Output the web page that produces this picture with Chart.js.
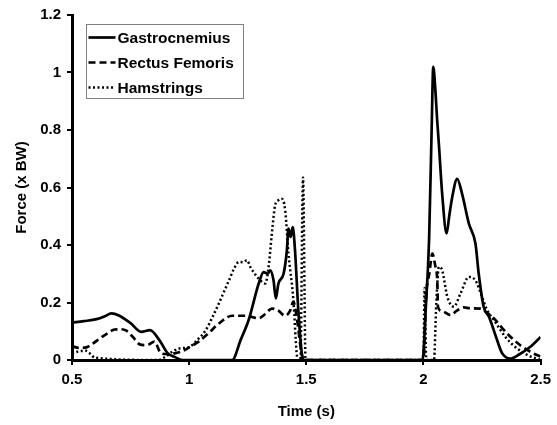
<!DOCTYPE html>
<html lang="en">
<head>
<meta charset="UTF-8">
<title>Muscle forces</title>
<script src="https://cdn.jsdelivr.net/npm/chart.js@4.4.1/dist/chart.umd.min.js"></script>
<style>
  html, body { margin: 0; padding: 0; background: #fff; }
  #wrap { width: 557px; height: 425px; }
</style>
</head>
<body>
<div id="wrap"><canvas id="myChart" width="557" height="425"></canvas></div>
<script>
// time (s) and force (x BW)
const gastroT = [0.5, 0.55, 0.605, 0.64, 0.668, 0.7, 0.75, 0.795, 0.833, 0.873, 0.907, 0.94, 0.97,
  1.184, 1.22, 1.254, 1.297, 1.318, 1.335, 1.346, 1.36, 1.37, 1.381, 1.403, 1.417, 1.424, 1.433, 1.442, 1.452, 1.466, 1.483, 1.49,
  1.996, 2.01, 2.024, 2.035, 2.042, 2.05, 2.059, 2.066, 2.08, 2.099, 2.11, 2.123, 2.144, 2.165, 2.194, 2.222, 2.236, 2.257,
  2.28, 2.31, 2.335, 2.37, 2.41, 2.455, 2.5];
const gastroF = [0.13, 0.135, 0.142, 0.152, 0.162, 0.155, 0.128, 0.098, 0.104, 0.069, 0.025, 0.01, 0,
  0, 0.07, 0.139, 0.266, 0.306, 0.3, 0.312, 0.278, 0.214, 0.266, 0.3, 0.38, 0.457, 0.428, 0.462, 0.38, 0.173, 0.01, 0,
  0, 0.18, 0.416, 0.8, 1.02, 0.95, 0.83, 0.75, 0.578, 0.44, 0.5, 0.567, 0.63, 0.578, 0.474, 0.405, 0.3, 0.185,
  0.15, 0.08, 0.025, 0.005, 0.02, 0.045, 0.08];

const rectusT = [0.5, 0.53, 0.562, 0.59, 0.619, 0.65, 0.682, 0.71, 0.732, 0.76, 0.788, 0.81, 0.83, 0.852, 0.88, 0.91, 0.936, 0.97,
  1.0, 1.042, 1.085, 1.127, 1.184, 1.24, 1.297, 1.325, 1.353, 1.38, 1.41, 1.43, 1.445, 1.459, 1.48, 1.49,
  2.0, 2.012, 2.025, 2.038, 2.05, 2.059, 2.062, 2.08, 2.116, 2.14, 2.172, 2.2, 2.243, 2.27, 2.3, 2.356, 2.412, 2.469, 2.5];
const rectusF = [0.048, 0.042, 0.044, 0.058, 0.075, 0.092, 0.106, 0.107, 0.102, 0.08, 0.055, 0.052, 0.055, 0.064, 0.023, 0.02, 0.023, 0.03,
  0.044, 0.065, 0.095, 0.127, 0.154, 0.154, 0.145, 0.16, 0.179, 0.172, 0.154, 0.17, 0.202, 0.15, 0.023, 0,
  0, 0.23, 0.3, 0.37, 0.33, 0.277, 0.185, 0.17, 0.156, 0.17, 0.183, 0.18, 0.179, 0.165, 0.145, 0.093, 0.052, 0.023, 0.012];

const hamT = [0.5, 0.53, 0.56, 0.58, 0.597, 0.87, 0.9, 0.93, 0.958, 1.0, 1.035, 1.071, 1.1, 1.127, 1.15, 1.17, 1.19, 1.212, 1.23,
  1.247, 1.261, 1.28, 1.297, 1.325, 1.34, 1.353, 1.367, 1.38, 1.395, 1.41, 1.424, 1.445, 1.459, 1.466, 1.475, 1.486, 1.497,
  2.0, 2.005, 2.012, 2.04, 2.045, 2.055, 2.066, 2.08, 2.102, 2.13, 2.158, 2.194, 2.222, 2.25, 2.271, 2.3, 2.35, 2.4, 2.45, 2.5];
const hamF = [0.023, 0.03, 0.032, 0.02, 0.008, 0, 0.012, 0.03, 0.04, 0.045, 0.07, 0.104, 0.15, 0.197, 0.24, 0.277, 0.315, 0.341, 0.34,
  0.347, 0.324, 0.3, 0.283, 0.266, 0.33, 0.44, 0.538, 0.555, 0.561, 0.52, 0.37, 0.208, 0.023, 0, 0, 0.635, 0,
  0, 0.25, 0, 0, 0, 0.2, 0.324, 0.312, 0.22, 0.185, 0.231, 0.289, 0.277, 0.22, 0.175, 0.14, 0.08, 0.04, 0.015, 0];

const seriesNames = ['Gastrocnemius', 'Rectus Femoris', 'Hamstrings'];
const xTicks = [0.5, 1, 1.5, 2, 2.5];
const xTickLabels = ['0.5', '1', '1.5', '2', '2.5'];
const yTicks = [0, 0.2, 0.4, 0.6, 0.8, 1, 1.2];
const yTickLabels = ['0', '0.2', '0.4', '0.6', '0.8', '1', '1.2'];

function pts(t, f) {
  return t.map((v, i) => ({x: v, y: f[i]}));
}

// legend drawn inside the plot, top left, like the original
const boxLegend = {
  id: 'boxLegend',
  afterDraw(chart) {
    const c = chart.ctx;
    const a = chart.chartArea;
    const bx = a.left + 14.5, by = a.top + 9.5, bw = 157, bh = 74;
    c.save();
    c.fillStyle = '#fff';
    c.fillRect(bx, by, bw, bh);
    c.strokeStyle = '#808080';
    c.lineWidth = 1;
    c.strokeRect(bx, by, bw, bh);
    c.font = 'bold 15.5px "Liberation Sans", Arial, sans-serif';
    c.textBaseline = 'middle';
    chart.data.datasets.forEach((ds, i) => {
      const y = by + 13 + i * 25;
      c.beginPath();
      c.strokeStyle = '#000';
      c.lineWidth = ds.borderWidth;
      c.setLineDash(ds.borderDash || []);
      c.moveTo(bx + 2, y);
      c.lineTo(bx + 29, y);
      c.stroke();
      c.setLineDash([]);
      c.fillStyle = '#000';
      c.fillText(ds.label, bx + 31, y + 1);
    });
    c.restore();
  }
};

const tickFont = {family: '"Liberation Sans", Arial, sans-serif', size: 15, weight: 'bold'};

new Chart(document.getElementById('myChart').getContext('2d'), {
  type: 'scatter',
  data: {
    datasets: [
      {label: seriesNames[0], data: pts(gastroT, gastroF), borderWidth: 2.7, borderDash: []},
      {label: seriesNames[1], data: pts(rectusT, rectusF), borderWidth: 2.7, borderDash: [7, 4]},
      {label: seriesNames[2], data: pts(hamT, hamF), borderWidth: 2.5, borderDash: [2, 2.5]}
    ].map(d => Object.assign(d, {
      showLine: true, pointRadius: 0, borderColor: '#000', backgroundColor: '#000',
      cubicInterpolationMode: 'monotone', fill: false
    }))
  },
  plugins: [boxLegend],
  options: {
    responsive: false,
    animation: false,
    layout: {padding: {top: 14, right: 13, left: 0, bottom: 0}},
    plugins: {legend: {display: false}, tooltip: {enabled: false}},
    scales: {
      x: {
        type: 'linear', min: 0.5, max: 2.5,
        afterBuildTicks: s => { s.ticks = xTicks.map(v => ({value: v})); },
        afterFit: s => { s.height = 65; },
        ticks: {color: '#000', font: tickFont, padding: 6,
          callback: (v) => xTickLabels[xTicks.indexOf(v)]},
        grid: {drawOnChartArea: false, drawTicks: true, tickLength: 5, color: '#000', lineWidth: 2},
        border: {display: true, color: '#000', width: 3},
        title: {display: true, text: 'Time (s)', color: '#000', font: tickFont, padding: {top: 1}}
      },
      y: {
        type: 'linear', position: 'left', min: 0, max: 1.2,
        afterBuildTicks: s => { s.ticks = yTicks.map(v => ({value: v})); },
        afterFit: s => { s.width = 72; },
        ticks: {color: '#000', font: tickFont, padding: 6,
          callback: (v) => yTickLabels[yTicks.indexOf(v)]},
        grid: {drawOnChartArea: false, drawTicks: true, tickLength: 5, color: '#000', lineWidth: 2},
        border: {display: true, color: '#000', width: 3},
        title: {display: true, text: 'Force (x BW)', color: '#000', font: tickFont, padding: {top: 13, bottom: 0}}
      }
    }
  }
});
</script>
</body>
</html>
